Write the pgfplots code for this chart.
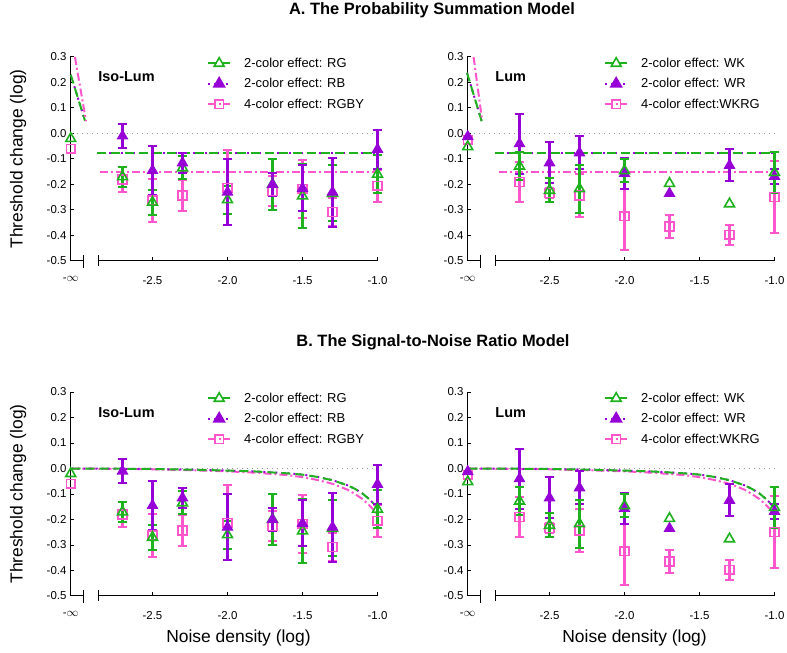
\documentclass[border=0pt]{standalone}
\usepackage{fontspec}
\setmainfont{Liberation Sans}
\usepackage{pgfplots}
\pgfplotsset{compat=1.18}
\usepackage{pgfplotstable}

\definecolor{cg}{RGB}{30,178,30}
\definecolor{cp}{RGB}{150,0,215}
\definecolor{ck}{RGB}{255,85,205}
\definecolor{cz}{RGB}{150,150,150}

% ---------- data: Iso-Lum ----------
\pgfplotstableread{
x y e
-2.7 -0.170 0.040
-2.5 -0.270 0.050
-2.3 -0.135 0.045
-2.0 -0.260 0.055
-1.7 -0.200 0.100
-1.5 -0.245 0.125
-1.3 -0.235 0.110
-1.0 -0.160 0.075
}\tRG
\pgfplotstableread{
x y
-3.045 -0.020
}\tRGn
\pgfplotstableread{
x y e
-2.7 -0.010 0.048
-2.5 -0.145 0.095
-2.3 -0.115 0.040
-2.0 -0.230 0.130
-1.7 -0.200 0.045
-1.5 -0.215 0.090
-1.3 -0.230 0.135
-1.0 -0.062 0.077
}\tRB
\pgfplotstableread{
x y e
-2.7 -0.180 0.050
-2.5 -0.262 0.085
-2.3 -0.243 0.062
-2.0 -0.213 0.147
-1.7 -0.226 0.060
-1.5 -0.217 0.115
-1.3 -0.308 0.055
-1.0 -0.205 0.062
}\tRGBY
\pgfplotstableread{
x y
-3.045 -0.060
}\tRGBYn
% ---------- data: Lum ----------
\pgfplotstableread{
x y e
-2.7 -0.128 0.055
-2.5 -0.223 0.047
-2.3 -0.217 0.093
-2.0 -0.146 0.045
-1.0 -0.153 0.080
}\tWK
\pgfplotstableread{
x y
-3.045 -0.052
-1.7 -0.196
-1.3 -0.276
}\tWKn
\pgfplotstableread{
x y e
-2.7 -0.040 0.118
-2.5 -0.115 0.080
-2.3 -0.076 0.065
-2.0 -0.157 0.060
-1.3 -0.125 0.063
-1.0 -0.168 0.030
}\tWR
\pgfplotstableread{
x y
-3.045 -0.012
-1.7 -0.235
}\tWRn
\pgfplotstableread{
x y e
-2.7 -0.190 0.080
-2.5 -0.233 0.020
-2.3 -0.243 0.085
-2.0 -0.324 0.133
-1.7 -0.364 0.045
-1.3 -0.397 0.040
-1.0 -0.249 0.143
}\tWKRG
\pgfplotstableread{
x y
-3.045 -0.025
}\tWKRGn
% ---------- model curves (SNR) ----------
\pgfplotstableread{
x y
-3.04 0.000
-2.7 -0.001
-2.5 -0.002
-2.3 -0.004
-2.0 -0.008
-1.8 -0.012
-1.6 -0.019
-1.5 -0.024
-1.4 -0.033
-1.3 -0.046
-1.2 -0.066
-1.15 -0.080
-1.1 -0.098
-1.05 -0.123
-1.0 -0.154
}\tSNRtwo
\pgfplotstableread{
x y
-3.04 0.000
-2.7 -0.002
-2.5 -0.003
-2.3 -0.006
-2.0 -0.011
-1.8 -0.017
-1.6 -0.026
-1.5 -0.034
-1.4 -0.045
-1.3 -0.060
-1.2 -0.083
-1.15 -0.100
-1.1 -0.120
-1.05 -0.147
-1.0 -0.180
}\tSNRfour

\pgfplotsset{
  panel/.style={
    scale only axis, width=307.5bp, height=204bp,
    xmin=-3.05, xmax=-1.0, ymin=-0.5, ymax=0.3, clip=false,
    axis lines*=left, x axis line style={draw=none},
    axis line style={line width=1bp},
    tick align=inside, major tick length=4bp,
    tick style={black, line width=1bp},
    xtick={-3.045,-2.5,-2,-1.5,-1},
    xticklabels={-$\infty$,-2.5,-2.0,-1.5,-1.0},
    ytick={-0.5,-0.4,-0.3,-0.2,-0.1,0,0.1,0.2,0.3},
    yticklabels={-0.5,-0.4,-0.3,-0.2,-0.1,0.0,0.1,0.2,0.3},
    tick label style={font=\fontsize{11.5}{13}\selectfont},
    xticklabel style={yshift=-12bp},
    legend style={at={(rel axis cs:0.4455,1.006)}, anchor=north west,
      draw=none, fill=none, font=\fontsize{13}{15}\selectfont,
      row sep=5.5bp, inner sep=0pt,
      /tikz/every odd column/.append style={column sep=11bp}},
    legend cell align=left,
    legend image code/.code={\draw[mark repeat=2,mark phase=2,#1]
        plot coordinates {(0bp,0bp)(11bp,0bp)(22bp,0bp)};},
  },
  gl/.style={cg, line width=2bp, dash pattern=on 9bp off 5bp},
  pl/.style={cp, line width=2bp, dash pattern=on 2bp off 4bp},
  kl/.style={ck, line width=2bp, dash pattern=on 8bp off 3bp on 2bp off 3bp},
  zl/.style={cz, line width=1.5bp, dash pattern=on 1.5bp off 3.5bp},
  gm/.style={only marks, cg, line width=2.1bp, mark=triangle, mark size=5.7bp,
     mark options={solid, draw=cg, fill=white, line width=1.6bp}},
  pm/.style={only marks, cp, line width=2.1bp, mark=triangle*, mark size=5.7bp,
     mark options={solid, draw=cp, fill=cp, line width=1.2bp}},
  km/.style={only marks, ck, line width=2.1bp, mark=square, mark size=4.4bp,
     mark options={solid, draw=ck, fill=white, line width=1.6bp}},
  eb/.style={/pgfplots/error bars/.cd, y dir=both, y explicit,
     error bar style={#1, line width=2.1bp},
     error mark options={#1, line width=2bp, mark size=4.8bp, rotate=90}},
}

\newcommand{\brokenaxis}{%
  \draw[line width=1bp] (axis cs:-3.05,-0.5) -- (axis cs:-2.963,-0.5);
  \draw[line width=1bp] (axis cs:-2.963,-0.475) -- (axis cs:-2.963,-0.528);
  \draw[line width=1bp] (axis cs:-2.857,-0.478) -- (axis cs:-2.857,-0.52);
  \draw[line width=1bp] (axis cs:-2.857,-0.5) -- (axis cs:-1.0,-0.5);
}
\newcommand{\legA}[3]{%
\addlegendimage{gl, mark=triangle, mark size=5.7bp, mark options={solid, draw=cg, fill=white, line width=1.6bp}}
\addlegendentry{#1}
\addlegendimage{pl, mark=triangle*, mark size=5.7bp, mark options={solid, draw=cp, fill=cp}}
\addlegendentry{#2}
\addlegendimage{kl, mark=square, mark size=4.4bp, mark options={solid, draw=ck, fill=white, line width=1.6bp}}
\addlegendentry{#3}}

\begin{document}
\begin{tikzpicture}
\useasboundingbox (0,0) rectangle (787bp,653bp);

\node[anchor=base, font=\bfseries\fontsize{16.5}{20}\selectfont] at (432bp,638bp) {A. The Probability Summation Model};
\node[anchor=base, font=\bfseries\fontsize{16.5}{20}\selectfont] at (433bp,306.3bp) {B. The Signal-to-Noise Ratio Model};

% ================= A left =================
\begin{axis}[panel, at={(70bp,392bp)}, anchor=south west,
  ylabel={Threshold change (log)},
  ylabel style={font=\fontsize{17.5}{20}\selectfont, at={(axis description cs:-0.169,0.5)}, anchor=center}]
\legA{2-color effect: RG}{2-color effect: RB}{4-color effect: RGBY}
\brokenaxis
\addplot[zl, forget plot] coordinates {(-3.04,0) (-1.0,0)};
\addplot[pl, forget plot] coordinates {(-2.87,-0.077) (-1.0,-0.077)};
\addplot[gl, forget plot] coordinates {(-2.87,-0.077) (-1.0,-0.077)};
\addplot[kl, forget plot] coordinates {(-2.85,-0.152) (-1.0,-0.152)};
\addplot[pl, forget plot] coordinates {(-3.045,0.23) (-2.95,0.05)};
\addplot[gl, forget plot] coordinates {(-3.045,0.23) (-2.95,0.05)};
\addplot[kl, forget plot] coordinates {(-3.017,0.3) (-2.943,0.048)};
\addplot[km, forget plot, eb=ck] table[x=x,y=y,y error=e] {\tRGBY};
\addplot[km, forget plot] table[x=x,y=y] {\tRGBYn};
\addplot[gm, forget plot, eb=cg] table[x=x,y=y,y error=e] {\tRG};
\addplot[gm, forget plot] table[x=x,y=y] {\tRGn};
\addplot[pm, forget plot, eb=cp] table[x=x,y=y,y error=e] {\tRB};
\node[anchor=west, font=\bfseries\fontsize{14.5}{17}\selectfont] at (axis description cs:0.081,0.902) {Iso-Lum};
\end{axis}

% ================= A right =================
\begin{axis}[panel, at={(467bp,392bp)}, anchor=south west]
\legA{2-color effect: WK}{2-color effect: WR}{4-color effect:WKRG}
\brokenaxis
\addplot[zl, forget plot] coordinates {(-3.04,0) (-1.0,0)};
\addplot[pl, forget plot] coordinates {(-2.864,-0.077) (-1.0,-0.077)};
\addplot[gl, forget plot] coordinates {(-2.864,-0.077) (-1.0,-0.077)};
\addplot[kl, forget plot] coordinates {(-2.84,-0.152) (-1.0,-0.152)};
\addplot[pl, forget plot] coordinates {(-3.05,0.238) (-2.952,0.048)};
\addplot[gl, forget plot] coordinates {(-3.05,0.238) (-2.952,0.048)};
\addplot[kl, forget plot] coordinates {(-3.006,0.3) (-2.95,0.055)};
\addplot[km, forget plot, eb=ck] table[x=x,y=y,y error=e] {\tWKRG};
\addplot[km, forget plot] table[x=x,y=y] {\tWKRGn};
\addplot[pm, forget plot, eb=cp] table[x=x,y=y,y error=e] {\tWR};
\addplot[pm, forget plot] table[x=x,y=y] {\tWRn};
\addplot[gm, forget plot, eb=cg] table[x=x,y=y,y error=e] {\tWK};
\addplot[gm, forget plot] table[x=x,y=y] {\tWKn};
\node[anchor=west, font=\bfseries\fontsize{14.5}{17}\selectfont] at (axis description cs:0.081,0.902) {Lum};
\end{axis}

% ================= B left =================
\begin{axis}[panel, at={(70bp,57bp)}, anchor=south west,
  ylabel={Threshold change (log)},
  ylabel style={font=\fontsize{17.5}{20}\selectfont, at={(axis description cs:-0.169,0.5)}, anchor=center},
  xlabel={Noise density (log)},
  xlabel style={font=\fontsize{17.5}{20}\selectfont, at={(axis description cs:0.548,-0.206)}, anchor=center}]
\legA{2-color effect: RG}{2-color effect: RB}{4-color effect: RGBY}
\brokenaxis
\addplot[zl, forget plot] coordinates {(-3.04,0) (-1.0,0)};
\addplot[kl, forget plot] table[x=x,y=y] {\tSNRfour};
\addplot[pl, forget plot] table[x=x,y=y] {\tSNRtwo};
\addplot[gl, forget plot] table[x=x,y=y] {\tSNRtwo};
\addplot[km, forget plot, eb=ck] table[x=x,y=y,y error=e] {\tRGBY};
\addplot[km, forget plot] table[x=x,y=y] {\tRGBYn};
\addplot[gm, forget plot, eb=cg] table[x=x,y=y,y error=e] {\tRG};
\addplot[gm, forget plot] table[x=x,y=y] {\tRGn};
\addplot[pm, forget plot, eb=cp] table[x=x,y=y,y error=e] {\tRB};
\node[anchor=west, font=\bfseries\fontsize{14.5}{17}\selectfont] at (axis description cs:0.081,0.897) {Iso-Lum};
\end{axis}

% ================= B right =================
\begin{axis}[panel, at={(467bp,57bp)}, anchor=south west,
  xlabel={Noise density (log)},
  xlabel style={font=\fontsize{17.5}{20}\selectfont, at={(axis description cs:0.545,-0.206)}, anchor=center}]
\legA{2-color effect: WK}{2-color effect: WR}{4-color effect:WKRG}
\brokenaxis
\addplot[zl, forget plot] coordinates {(-3.04,0) (-1.0,0)};
\addplot[kl, forget plot] table[x=x,y=y] {\tSNRfour};
\addplot[pl, forget plot] table[x=x,y=y] {\tSNRtwo};
\addplot[gl, forget plot] table[x=x,y=y] {\tSNRtwo};
\addplot[km, forget plot, eb=ck] table[x=x,y=y,y error=e] {\tWKRG};
\addplot[km, forget plot] table[x=x,y=y] {\tWKRGn};
\addplot[pm, forget plot, eb=cp] table[x=x,y=y,y error=e] {\tWR};
\addplot[pm, forget plot] table[x=x,y=y] {\tWRn};
\addplot[gm, forget plot, eb=cg] table[x=x,y=y,y error=e] {\tWK};
\addplot[gm, forget plot] table[x=x,y=y] {\tWKn};
\node[anchor=west, font=\bfseries\fontsize{14.5}{17}\selectfont] at (axis description cs:0.081,0.897) {Lum};
\end{axis}
\end{tikzpicture}
\end{document}
